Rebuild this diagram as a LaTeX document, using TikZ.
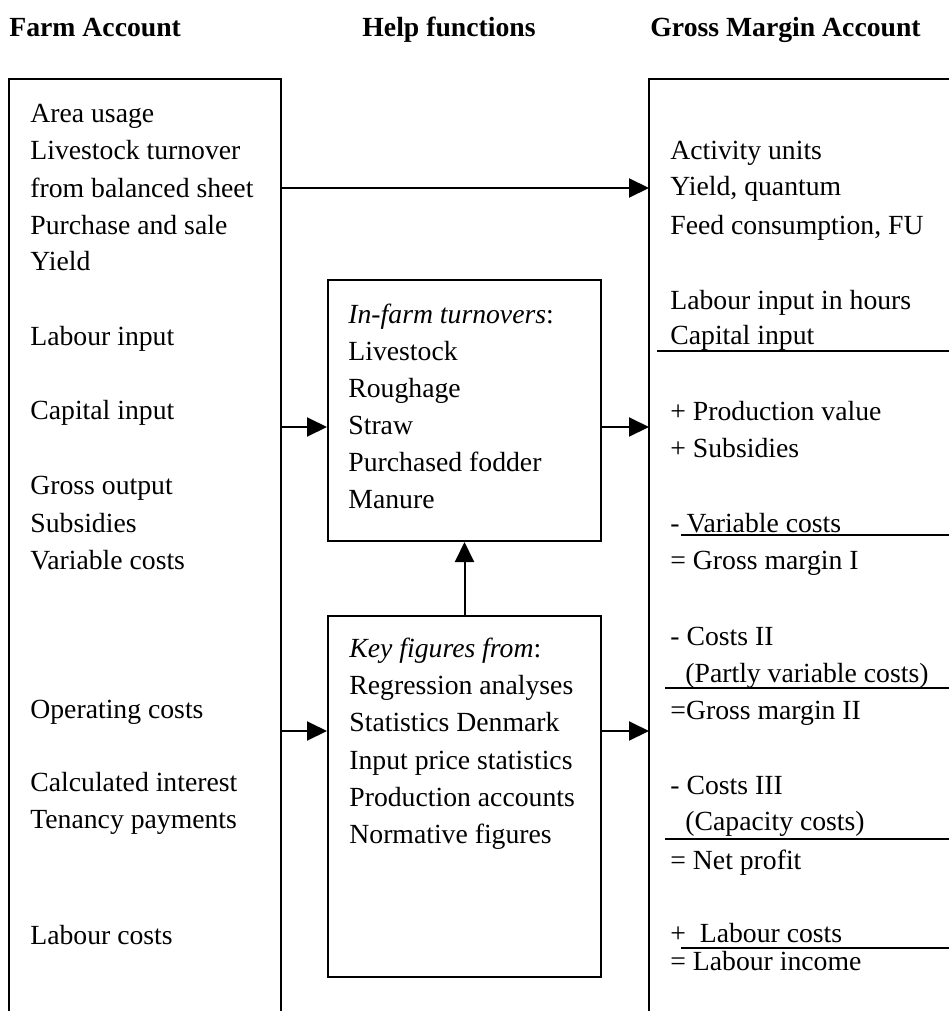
\documentclass[tikz,border=0pt]{standalone}
\usepackage{fontspec}
\setmainfont{Liberation Serif}
\usetikzlibrary{arrows.meta}
\tikzset{
	txt/.style={anchor=base west, inner sep=0pt, yshift=-1pt, font=\fontsize{13.85}{16}\selectfont},
	head/.style={txt, font=\fontsize{13.85}{16}\selectfont\bfseries},
	box/.style={line width=1pt},
	flow/.style={line width=1pt, -{Triangle[length=10pt, width=9.5pt]}},
	rule/.style={line width=1pt}
}

\begin{document}
\begin{tikzpicture}[x=0.5pt, y=-0.5pt]
			%%%%% START %%%%%
			\useasboundingbox (0,0) rectangle (949,1011);
			
			\node[head] (farmhead) at (9,35) {Farm Account};
			\node[head] (helphead) at (362,35) {Help functions};
			\node[head] (grosshead) at (650,35) {Gross Margin Account};
			
			% open account boxes
			\draw[box] (9,1011) |- (281,79) -- (281,1011);
			\draw[box] (649,1011) |- (949,79);
			\coordinate (farmE) at (281,79);
			\coordinate (grossW) at (649,79);
			
			% help boxes
			\node[draw, box, inner sep=0pt, minimum width=136.5pt, minimum height=130.5pt] (turn) at (464.5,410.5) {};
			\node[draw, box, inner sep=0pt, minimum width=136.5pt, minimum height=180.5pt] (key) at (464.5,796.5) {};
			
			% arrow rows
			\coordinate (row1) at (0,188);
			\coordinate (row2) at (0,427);
			\coordinate (row3) at (0,731);
			
			\draw[flow] (farmE |- row1) -- (grossW |- row1);
			\draw[flow] (farmE |- row2) -- (turn.west |- row2);
			\draw[flow] (turn.east |- row2) -- (grossW |- row2);
			\draw[flow] (farmE |- row3) -- (key.west |- row3);
			\draw[flow] (key.east |- row3) -- (grossW |- row3);
			\draw[flow] (key.north) -- (turn.south);
			
			% farm account
			\node[txt] (f1) at (30,120) {Area usage};
			\node[txt] (f2) at (30,157) {Livestock turnover};
			\node[txt] (f3) at (30,195) {from balanced sheet};
			\node[txt] (f4) at (30,232) {Purchase and sale};
			\node[txt] (f5) at (30,268) {Yield};
			\node[txt] (f6) at (30,343) {Labour input};
			\node[txt] (f7) at (30,417) {Capital input};
			\node[txt] (f8) at (30,492) {Gross output};
			\node[txt] (f9) at (30,530) {Subsidies};
			\node[txt] (f10) at (30,567) {Variable costs};
			\node[txt] (f11) at (30,716) {Operating costs};
			\node[txt] (f12) at (30,789) {Calculated interest};
			\node[txt] (f13) at (30,826) {Tenancy payments};
			\node[txt] (f14) at (30,942) {Labour costs};
			
			% help functions
			\node[txt] (t1) at (348,321) {\textit{In-farm turnovers}:};
			\node[txt] (t2) at (348,358) {Livestock};
			\node[txt] (t3) at (348,395) {Roughage};
			\node[txt] (t4) at (348,432) {Straw};
			\node[txt] (t5) at (348,469) {Purchased fodder};
			\node[txt] (t6) at (348,506) {Manure};
			
			\node[txt] (k1) at (349,655) {\textit{Key figures from}:};
			\node[txt] (k2) at (349,692) {Regression analyses};
			\node[txt] (k3) at (349,729) {Statistics Denmark};
			\node[txt] (k4) at (349,767) {Input price statistics};
			\node[txt] (k5) at (349,804) {Production accounts};
			\node[txt] (k6) at (349,841) {Normative figures};
			
			% gross margin account
			\node[txt] (g1) at (670,157) {Activity units};
			\node[txt] (g2) at (670,193) {Yield, quantum};
			\node[txt] (g3) at (670,232) {Feed consumption, FU};
			\node[txt] (g4) at (670,307) {Labour input in hours};
			\node[txt] (g5) at (670,342) {Capital input};
			\draw[rule] (657,351) -- (949,351);
			
			\node[txt] (g6) at (670,418) {+ Production value};
			\node[txt] (g7) at (670,455) {+ Subsidies};
			\node[txt] (g8) at (670,530) {- Variable costs};
			\draw[rule] (681,535) -- (949,535);
			\node[txt] (g9) at (670,567) {= Gross margin I};
			
			\node[txt] (g10) at (670,643) {- Costs II};
			\node[txt] (g11) at (685,680) {(Partly variable costs)};
			\draw[rule] (665,688) -- (949,688);
			\node[txt] (g12) at (670,717) {=Gross margin II};
			
			\node[txt] (g13) at (670,792) {- Costs III};
			\node[txt] (g14) at (685,828) {(Capacity costs)};
			\draw[rule] (665,839) -- (949,839);
			\node[txt] (g15) at (670,867) {= Net profit};
			
			\node[txt] (g16) at (670,940) {+\ \ Labour costs};
			\draw[rule] (681,948) -- (949,948);
			\node[txt] (g17) at (670,968) {= Labour income};
			
			%%%%% END %%%%%
\end{tikzpicture}
\end{document}
